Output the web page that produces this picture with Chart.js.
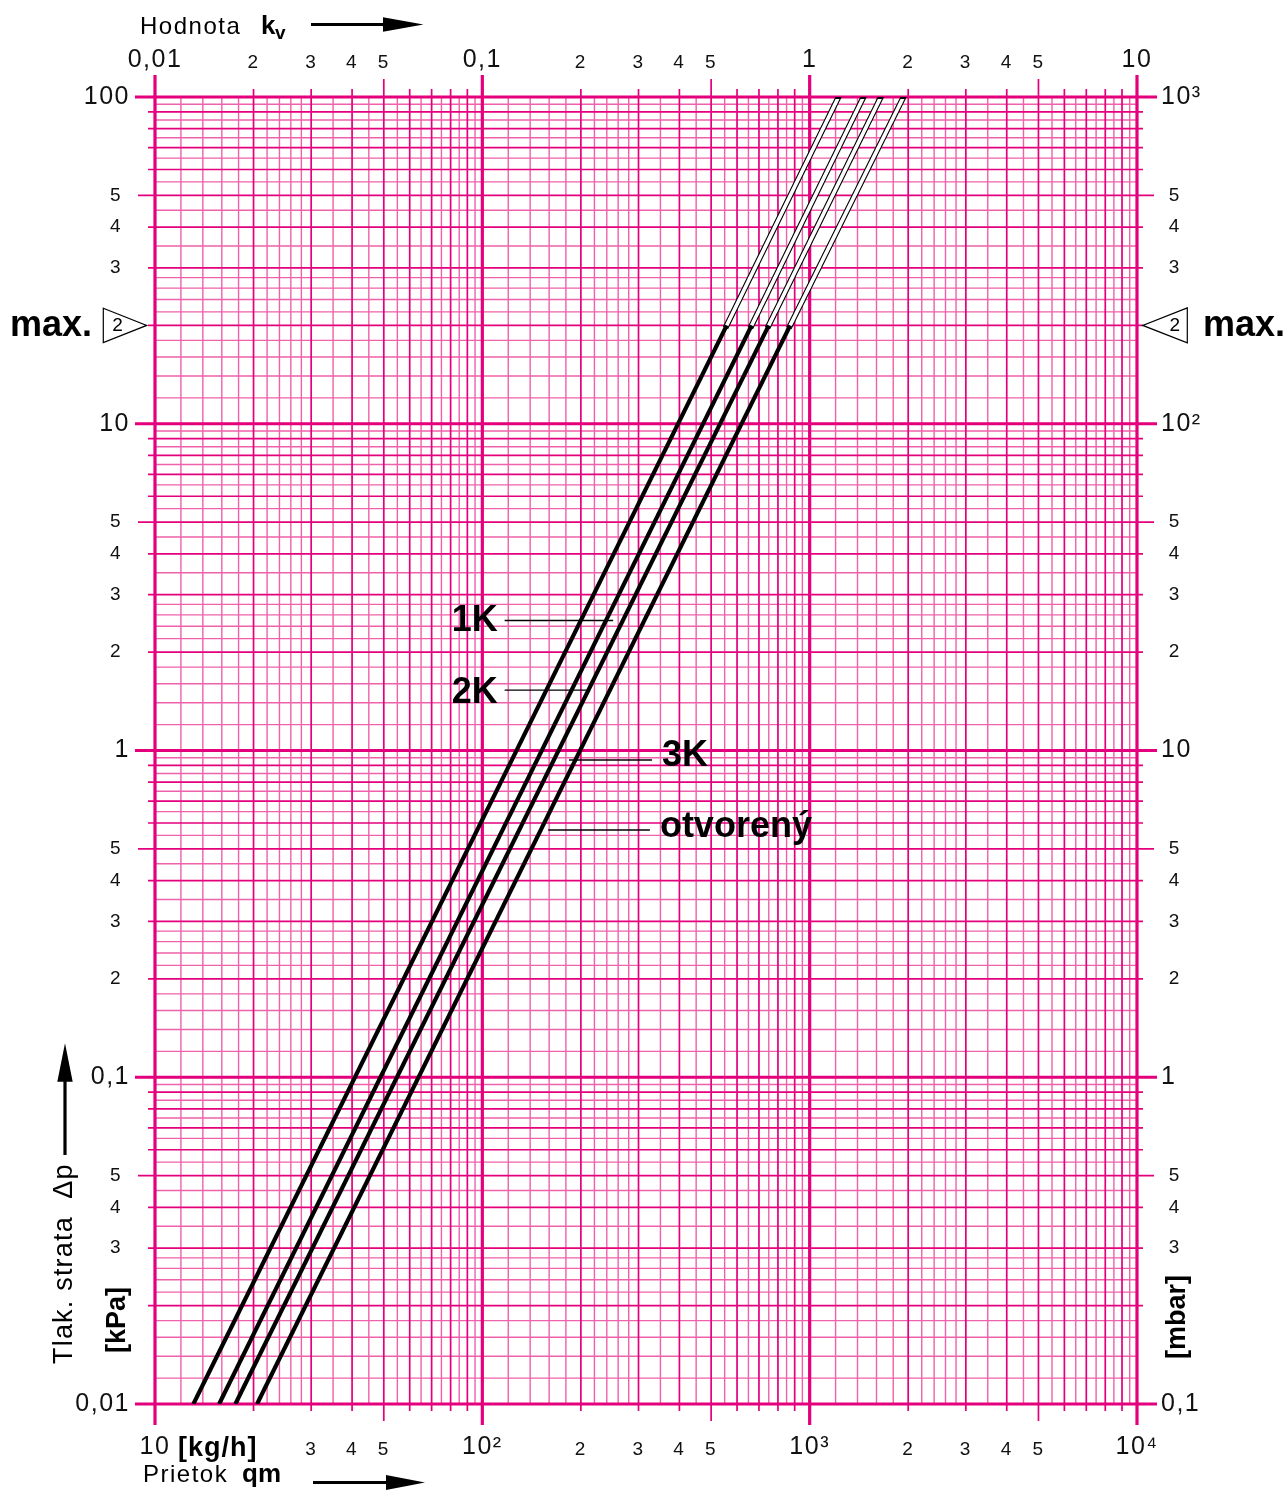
<!DOCTYPE html>
<html><head><meta charset="utf-8">
<script src="https://cdn.jsdelivr.net/npm/chart.js@4.4.1/dist/chart.umd.min.js"></script>
<style>html,body{margin:0;padding:0;background:#fff;}canvas{display:block;}</style>
</head><body>
<canvas id="c" width="1288" height="1497"></canvas>
<script>
// ---------------- data ----------------
const dpPoints = [0.01, 20, 100];          // kPa : bottom of graph, max. (end of thick line), top of graph
const q1K   = [13.1, 558, 1225];           // kg/h at those pressure drops
const q2K   = [15.7, 665, 1460];
const q3K   = [17.6, 750, 1650];
const qOpen = [20.5, 872, 1935];
const curveNames = ['1K', '2K', '3K', 'otvorený'];
const maxDp = 20;                           // max. marker (kPa)

const leaderDp    = [2.5, 1.53, 0.935, 0.571];   // kPa of each label's leader line
const leaderQFrom = [117, 117, 184, 159];         // kg/h
const leaderQTo   = [251, 210, 330, 325];         // kg/h

const bottomTickValues = [10, 30, 40, 50, 100, 200, 300, 400, 500, 1000, 2000, 3000, 4000, 5000, 10000];
const bottomTickLabels = ['10', '3', '4', '5', '10²', '2', '3', '4', '5', '10³', '2', '3', '4', '5', '10⁴'];
const topTickValues = [0.01, 0.02, 0.03, 0.04, 0.05, 0.1, 0.2, 0.3, 0.4, 0.5, 1, 2, 3, 4, 5, 10];
const topTickLabels = ['0,01', '2', '3', '4', '5', '0,1', '2', '3', '4', '5', '1', '2', '3', '4', '5', '10'];
const leftTickValues = [0.01, 0.03, 0.04, 0.05, 0.1, 0.2, 0.3, 0.4, 0.5, 1, 2, 3, 4, 5, 10, 30, 40, 50, 100];
const leftTickLabels = ['0,01', '3', '4', '5', '0,1', '2', '3', '4', '5', '1', '2', '3', '4', '5', '10', '3', '4', '5', '100'];
const rightTickValues = [0.1, 0.3, 0.4, 0.5, 1, 2, 3, 4, 5, 10, 20, 30, 40, 50, 100, 300, 400, 500, 1000];
const rightTickLabels = ['0,1', '3', '4', '5', '1', '2', '3', '4', '5', '10', '2', '3', '4', '5', '10²', '3', '4', '5', '10³'];

const gridMantissas = [1, 1.2, 1.4, 1.6, 1.8, 2, 2.2, 2.4, 2.6, 2.8, 3, 3.5, 4, 4.5, 5, 5.5, 6, 6.5, 7, 7.5, 8, 8.5, 9, 9.5];
const tickMantissas = [1, 2, 3, 4, 5, 6, 7, 8, 9];

// ---------------- styles ----------------
const FONT = '"Liberation Sans", Arial, Helvetica, sans-serif';
const MAG_DARK = '#e4007c';
const MAG_LIGHT = '#ef62ab';
const BIG = 25, SMALL = 19;

function isDecade(v) { const l = Math.log10(v); return Math.abs(l - Math.round(l)) < 1e-9; }
function mant(v) { const e = Math.floor(Math.log10(v) + 1e-9); return Math.round(v / Math.pow(10, e) * 100) / 100; }
function subdivisions(min, max, mants) {
  const out = [];
  const e0 = Math.round(Math.log10(min)), e1 = Math.round(Math.log10(max));
  for (let e = e0; e < e1; e++) for (const m of mants) out.push(m * Math.pow(10, e));
  out.push(max);
  return out;
}
function tickFont(c, lhBig, lhSmall) {
  const big = c.tick ? isDecade(c.tick.value) : true;
  return { family: FONT, size: big ? BIG : SMALL, lineHeight: big ? lhBig : lhSmall };
}

function seg(q, i0, i1) { return [{x: q[i0], y: dpPoints[i0]}, {x: q[i1], y: dpPoints[i1]}]; }
const curves = [q1K, q2K, q3K, qOpen];
const datasets = [];
curves.forEach((q, i) => {
  datasets.push({ label: curveNames[i], data: seg(q, 0, 1), borderColor: '#000', borderWidth: 4.2,
    pointRadius: 0, borderCapStyle: 'butt', order: 1, clip: 0, xAxisID: 'x', yAxisID: 'y' });
  datasets.push({ label: curveNames[i] + ' inner', data: seg(q, 1, 2), borderColor: '#fff', borderWidth: 3.6,
    pointRadius: 0, borderCapStyle: 'square', order: 2, clip: {left: 0, top: -2, right: 0, bottom: 0}, xAxisID: 'x', yAxisID: 'y' });
  datasets.push({ label: curveNames[i] + ' outline', data: seg(q, 1, 2), borderColor: '#000', borderWidth: 5.8,
    pointRadius: 0, borderCapStyle: 'square', order: 3, clip: 0, xAxisID: 'x', yAxisID: 'y' });
});

// ---------------- plugins ----------------
const paperPlugin = {
  id: 'paper',
  beforeDraw(chart) {
    // the reference's digits are set a little wider than Liberation Sans
    chart.ctx.letterSpacing = '1.5px';
  },
  beforeDatasetsDraw(chart) {
    const {ctx, chartArea: a} = chart;
    const xs = chart.scales.x, ys = chart.scales.y;
    const xv = subdivisions(xs.min, xs.max, gridMantissas);
    const yv = subdivisions(ys.min, ys.max, gridMantissas);
    const cls = v => { const m = mant(v); return m === 1 ? 'decade' : (Number.isInteger(m) ? 'dark' : 'light'); };
    const passes = [['light', MAG_LIGHT, 1.4], ['dark', MAG_DARK, 1.7], ['decade', MAG_DARK, 3.2]];
    ctx.save();
    for (const [name, col, w] of passes) {
      ctx.strokeStyle = col; ctx.lineWidth = w; ctx.beginPath();
      const ext = name === 'decade' ? 1.6 : 0;
      xv.filter(v => cls(v) === name).forEach(v => {
        const p = xs.getPixelForValue(v); ctx.moveTo(p, a.top - ext); ctx.lineTo(p, a.bottom + ext);
      });
      yv.filter(v => cls(v) === name).forEach(v => {
        const p = ys.getPixelForValue(v); ctx.moveTo(a.left - ext, p); ctx.lineTo(a.right + ext, p);
      });
      ctx.stroke();
    }
    // outer tick marks
    const tx = subdivisions(xs.min, xs.max, tickMantissas);
    const ty = subdivisions(ys.min, ys.max, tickMantissas);
    ctx.strokeStyle = MAG_DARK;
    const len = (v, d, f, o) => { const m = mant(v); return m === 1 ? d : (m === 5 ? f : o); };
    tx.forEach(v => {
      const p = xs.getPixelForValue(v);
      ctx.lineWidth = mant(v) === 1 ? 3.2 : 1.7;
      ctx.beginPath();
      ctx.moveTo(p, a.top); ctx.lineTo(p, a.top - len(v, 22, 18, 8));
      ctx.moveTo(p, a.bottom); ctx.lineTo(p, a.bottom + len(v, 21, 17, 7));
      ctx.stroke();
    });
    ty.forEach(v => {
      const p = ys.getPixelForValue(v);
      ctx.lineWidth = mant(v) === 1 ? 3.2 : 1.7;
      ctx.beginPath();
      ctx.moveTo(a.left, p); ctx.lineTo(a.left - len(v, 20, 17, 7), p);
      ctx.moveTo(a.right, p); ctx.lineTo(a.right + len(v, 20, 17, 6), p);
      ctx.stroke();
    });
    ctx.restore();
  },
  afterDraw(chart) {
    const {ctx, chartArea: a} = chart;
    const xs = chart.scales.x, ys = chart.scales.y;
    ctx.save();
    ctx.letterSpacing = '0px';
    ctx.fillStyle = '#000'; ctx.strokeStyle = '#000';
    // leader lines + labels
    ctx.lineWidth = 1.4;
    ctx.font = 'bold 36px ' + FONT;
    ctx.textBaseline = 'alphabetic';
    const offs = [11, 13, 6, 7];
    curveNames.forEach((n, i) => {
      const y = ys.getPixelForValue(leaderDp[i]);
      const x0 = xs.getPixelForValue(leaderQFrom[i]);
      const x1 = xs.getPixelForValue(leaderQTo[i]);
      ctx.beginPath(); ctx.moveTo(x0, y); ctx.lineTo(x1, y); ctx.stroke();
      if (i < 2) { ctx.textAlign = 'right'; ctx.fillText(n, x0 - 7, y + offs[i]); }
      else { ctx.textAlign = 'left'; ctx.fillText(n, x1 + 10, y + offs[i]); }
    });
    // max. markers
    const tyP = ys.getPixelForValue(maxDp);
    ctx.lineWidth = 1.2;
    ctx.fillStyle = '#fff';
    ctx.beginPath(); ctx.moveTo(a.left - 51.7, tyP - 17.2); ctx.lineTo(a.left - 8.3, tyP); ctx.lineTo(a.left - 51.7, tyP + 17.2); ctx.closePath();
    ctx.fill(); ctx.stroke();
    ctx.beginPath(); ctx.moveTo(a.right + 50.3, tyP - 17.5); ctx.lineTo(a.right + 5.7, tyP); ctx.lineTo(a.right + 50.3, tyP + 17.5); ctx.closePath();
    ctx.fill(); ctx.stroke();
    ctx.fillStyle = '#000';
    ctx.font = SMALL + 'px ' + FONT; ctx.textAlign = 'center'; ctx.textBaseline = 'middle';
    ctx.fillText('2', a.left - 37.5, tyP);
    ctx.fillText('2', a.right + 37.7, tyP);
    ctx.textBaseline = 'alphabetic'; ctx.textAlign = 'left';
    ctx.font = 'bold 36px ' + FONT;
    ctx.fillText('max.', 10, tyP + 11);
    ctx.fillText('max.', a.right + 66, tyP + 11);

    // axis titles
    ctx.letterSpacing = '1.5px';
    ctx.font = '24px ' + FONT;
    ctx.fillText('Hodnota', 140, 33.5);
    ctx.fillText('Prietok', 143, 1482);
    ctx.letterSpacing = '0px';
    ctx.font = 'bold 26px ' + FONT;
    ctx.fillText('k', 261, 33.5);
    ctx.fillText('qm', 242, 1482);
    ctx.font = 'bold 19px ' + FONT;
    ctx.fillText('v', 275, 38.5);
    ctx.font = 'bold 27px ' + FONT;
    ctx.letterSpacing = '1px';
    ctx.fillText('[kg/h]', 178, 1456);
    ctx.letterSpacing = '0px';

    // arrows
    const arrowH = (x0, x1, xt, y, hh) => {
      ctx.lineWidth = 3; ctx.beginPath(); ctx.moveTo(x0, y); ctx.lineTo(x1, y); ctx.stroke();
      ctx.beginPath(); ctx.moveTo(x1 - 2, y - hh); ctx.lineTo(xt, y); ctx.lineTo(x1 - 2, y + hh); ctx.closePath(); ctx.fill();
    };
    arrowH(311, 385, 423.5, 24.5, 7.2);
    arrowH(313, 388, 425, 1482.5, 7.5);
    ctx.lineWidth = 3.2; ctx.beginPath(); ctx.moveTo(65, 1155); ctx.lineTo(65, 1079); ctx.stroke();
    ctx.beginPath(); ctx.moveTo(57.3, 1081.7); ctx.lineTo(65, 1043.3); ctx.lineTo(72.7, 1081.7); ctx.closePath(); ctx.fill();

    // rotated titles
    const rot = (txt, x, y, font, align, spacing) => {
      ctx.save(); ctx.translate(x, y); ctx.rotate(-Math.PI / 2);
      ctx.font = font; ctx.textAlign = align; ctx.letterSpacing = spacing;
      ctx.fillText(txt, 0, 0); ctx.restore();
    };
    rot('Tlak. strata  Δp', 72, 1364, '27px ' + FONT, 'left', '1.2px');
    rot('[kPa]', 124.5, 1320, 'bold 27px ' + FONT, 'center', '0px');
    rot('[mbar]', 1184.5, 1317, 'bold 27px ' + FONT, 'center', '0px');
    ctx.restore();
  }
};

// ---------------- chart ----------------
const noGrid = { display: false, drawTicks: false };
new Chart(document.getElementById('c'), {
  type: 'line',
  data: { datasets },
  options: {
    responsive: false, animation: false, devicePixelRatio: 1,
    layout: { padding: 0 },
    plugins: { legend: { display: false }, tooltip: { enabled: false } },
    scales: {
      x: { type: 'logarithmic', position: 'bottom', min: 10, max: 10000,
        grid: noGrid, border: { display: false },
        afterBuildTicks: s => { s.ticks = bottomTickValues.map(v => ({ value: v })); },
        afterFit: s => { s.height = 93; },
        ticks: { autoSkip: false, maxRotation: 0, minRotation: 0, padding: 29, color: '#111',
          callback: (v, i) => bottomTickLabels[i], font: c => tickFont(c, 1.147, 1.728) } },
      x2: { type: 'logarithmic', position: 'top', min: 0.01, max: 10,
        grid: noGrid, border: { display: false },
        afterBuildTicks: s => { s.ticks = topTickValues.map(v => ({ value: v })); },
        afterFit: s => { s.height = 97; },
        ticks: { autoSkip: false, maxRotation: 0, minRotation: 0, padding: 22, color: '#111',
          callback: (v, i) => topTickLabels[i], font: c => tickFont(c, 1.173, 1.324) } },
      y: { type: 'logarithmic', position: 'left', min: 0.01, max: 100,
        grid: noGrid, border: { display: false },
        afterBuildTicks: s => { s.ticks = leftTickValues.map(v => ({ value: v })); },
        afterFit: s => { s.width = 155; },
        ticks: { autoSkip: false, padding: 25, color: '#111',
          callback: (v, i) => isDecade(leftTickValues[i]) ? leftTickLabels[i] : leftTickLabels[i] + '\u2004',
          font: c => tickFont(c, 1.2, 1.2) } },
      y2: { type: 'logarithmic', position: 'right', min: 0.1, max: 1000,
        grid: noGrid, border: { display: false },
        afterBuildTicks: s => { s.ticks = rightTickValues.map(v => ({ value: v })); },
        afterFit: s => { s.width = 151; },
        ticks: { autoSkip: false, padding: 24, color: '#111',
          callback: (v, i) => isDecade(rightTickValues[i]) ? rightTickLabels[i] : '\u2004' + rightTickLabels[i],
          font: c => tickFont(c, 1.2, 1.2) } }
    }
  },
  plugins: [paperPlugin]
});
</script>
</body></html>
